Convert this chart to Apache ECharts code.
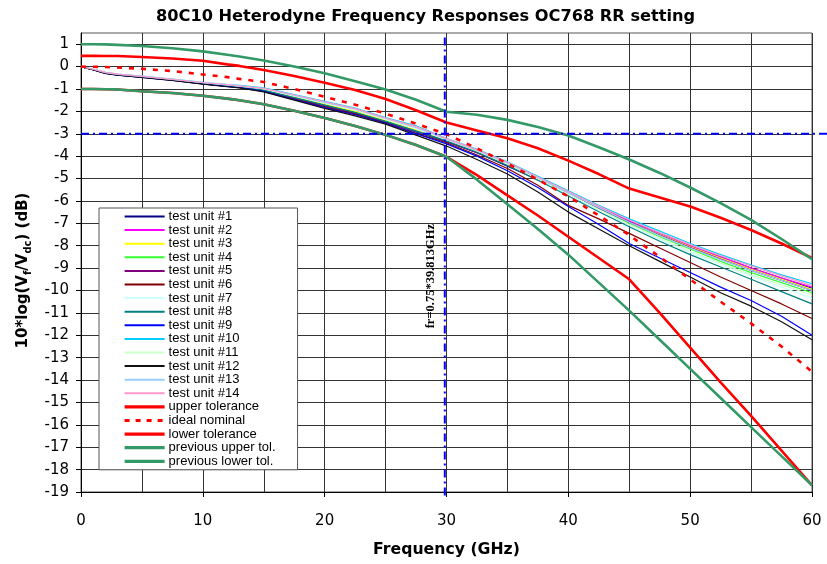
<!DOCTYPE html>
<html>
<head>
<meta charset="utf-8">
<script src="https://cdn.jsdelivr.net/npm/echarts@6/dist/echarts.min.js"></script>
<style>html,body{margin:0;padding:0;background:#fff;}#c{width:827px;height:564px;}</style>
</head>
<body>
<div id="c"></div>
<script>
var freq = [0, 1, 2, 3, 5, 7.5, 10, 12, 13, 15, 17.5, 20, 22.5, 25, 27.5, 30, 32.5, 35, 37.5, 40, 42.5, 45, 47.5, 50, 52.5, 55, 57.5, 60];

var unit1  = [0,-0.14,-0.29,-0.37,-0.47,-0.6,-0.76,-0.87,-0.92,-1.08,-1.42,-1.75,-2.08,-2.48,-2.92,-3.35,-3.85,-4.45,-5.05,-5.65,-6.3,-6.9,-7.45,-8.0,-8.5,-9.0,-9.45,-9.9];
var unit2  = [0,-0.13,-0.28,-0.36,-0.45,-0.59,-0.74,-0.85,-0.9,-1.05,-1.38,-1.7,-2.02,-2.42,-2.85,-3.3,-3.8,-4.38,-4.98,-5.62,-6.27,-6.88,-7.45,-8.0,-8.5,-9.0,-9.45,-9.85];
var unit3  = [0,-0.13,-0.27,-0.35,-0.45,-0.58,-0.73,-0.84,-0.89,-1.03,-1.36,-1.68,-2.0,-2.4,-2.82,-3.28,-3.8,-4.38,-5.0,-5.65,-6.3,-6.95,-7.5,-8.05,-8.55,-9.05,-9.5,-9.95];
var unit4  = [0,-0.13,-0.28,-0.36,-0.46,-0.6,-0.75,-0.86,-0.91,-1.06,-1.4,-1.72,-2.04,-2.45,-2.88,-3.32,-3.82,-4.4,-5.02,-5.68,-6.35,-7.0,-7.6,-8.15,-8.7,-9.2,-9.65,-10.1];
var unit5  = [0,-0.14,-0.29,-0.37,-0.46,-0.6,-0.76,-0.87,-0.92,-1.07,-1.41,-1.74,-2.06,-2.47,-2.9,-3.33,-3.84,-4.42,-5.03,-5.67,-6.32,-6.95,-7.52,-8.08,-8.6,-9.1,-9.55,-10.0];
var unit6  = [0,-0.14,-0.29,-0.37,-0.47,-0.61,-0.77,-0.88,-0.93,-1.1,-1.45,-1.8,-2.12,-2.52,-2.98,-3.4,-3.95,-4.55,-5.3,-6.2,-6.8,-7.45,-8.1,-8.75,-9.4,-10.0,-10.6,-11.25];
var unit7  = [0,-0.12,-0.27,-0.35,-0.44,-0.58,-0.72,-0.83,-0.88,-1.0,-1.32,-1.63,-1.95,-2.36,-2.78,-3.28,-3.78,-4.36,-5.02,-5.72,-6.42,-7.1,-7.72,-8.3,-8.85,-9.35,-9.85,-10.35];
var unit8  = [0,-0.13,-0.28,-0.36,-0.46,-0.59,-0.75,-0.86,-0.91,-1.06,-1.39,-1.72,-2.05,-2.45,-2.88,-3.32,-3.82,-4.42,-5.08,-5.78,-6.48,-7.15,-7.8,-8.4,-8.95,-9.5,-10.05,-10.6];
var unit9  = [0,-0.14,-0.3,-0.38,-0.48,-0.62,-0.77,-0.89,-0.94,-1.11,-1.47,-1.83,-2.15,-2.53,-3.0,-3.45,-4.0,-4.65,-5.4,-6.25,-7.05,-7.9,-8.55,-9.2,-9.85,-10.45,-11.15,-12.0];
var unit10 = [0,-0.12,-0.26,-0.34,-0.43,-0.56,-0.7,-0.8,-0.84,-0.95,-1.25,-1.55,-1.85,-2.28,-2.65,-3.2,-3.7,-4.25,-4.9,-5.55,-6.2,-6.8,-7.35,-7.9,-8.4,-8.87,-9.3,-9.7];
var unit11 = [0,-0.12,-0.27,-0.35,-0.44,-0.57,-0.72,-0.82,-0.87,-0.99,-1.3,-1.6,-1.92,-2.34,-2.75,-3.27,-3.77,-4.35,-5.0,-5.68,-6.38,-7.05,-7.67,-8.25,-8.78,-9.3,-9.75,-10.2];
var unit12 = [0,-0.15,-0.3,-0.38,-0.48,-0.62,-0.78,-0.9,-0.95,-1.13,-1.5,-1.87,-2.2,-2.57,-3.06,-3.55,-4.15,-4.8,-5.6,-6.5,-7.25,-8.0,-8.7,-9.4,-10.1,-10.7,-11.4,-12.2];
var unit13 = [0,-0.12,-0.27,-0.35,-0.44,-0.57,-0.72,-0.82,-0.87,-0.98,-1.29,-1.6,-1.9,-2.32,-2.72,-3.24,-3.74,-4.3,-4.96,-5.63,-6.3,-6.95,-7.55,-8.1,-8.62,-9.1,-9.55,-10.0];
var unit14 = [0,-0.12,-0.26,-0.34,-0.44,-0.57,-0.71,-0.81,-0.86,-0.97,-1.27,-1.57,-1.88,-2.3,-2.68,-3.22,-3.72,-4.27,-4.93,-5.58,-6.23,-6.85,-7.42,-7.95,-8.45,-8.9,-9.35,-9.78];

var upperTol   = [0.48,0.48,0.47,0.47,0.43,0.36,0.26,0.1,0.03,-0.15,-0.42,-0.72,-1.05,-1.45,-1.95,-2.5,-2.85,-3.2,-3.65,-4.2,-4.8,-5.45,-5.85,-6.25,-6.75,-7.3,-7.9,-8.55];
var nominal    = [0,-0.01,-0.02,-0.04,-0.1,-0.2,-0.35,-0.47,-0.55,-0.69,-1.0,-1.35,-1.7,-2.1,-2.55,-3.02,-3.65,-4.33,-5.05,-5.8,-6.65,-7.53,-8.5,-9.5,-10.5,-11.47,-12.5,-13.63];
var lowerTol   = [-1.0,-1.0,-1.01,-1.02,-1.1,-1.18,-1.3,-1.43,-1.5,-1.68,-1.97,-2.3,-2.65,-3.05,-3.5,-4.03,-4.85,-5.75,-6.65,-7.6,-8.55,-9.5,-11.0,-12.55,-14.1,-15.6,-17.15,-18.7];
var prevUpper  = [1.0,1.0,0.99,0.97,0.92,0.82,0.68,0.53,0.45,0.27,0.0,-0.3,-0.65,-1.02,-1.48,-2.02,-2.15,-2.38,-2.7,-3.08,-3.6,-4.15,-4.75,-5.4,-6.1,-6.85,-7.7,-8.6];
var prevLower  = [-1.0,-1.0,-1.01,-1.02,-1.1,-1.18,-1.3,-1.43,-1.5,-1.68,-1.97,-2.3,-2.65,-3.05,-3.5,-4.03,-5.05,-6.15,-7.25,-8.4,-9.65,-10.9,-12.2,-13.5,-14.8,-16.1,-17.4,-18.7];

var unitNames = ['test unit #1','test unit #2','test unit #3','test unit #4','test unit #5','test unit #6','test unit #7','test unit #8','test unit #9','test unit #10','test unit #11','test unit #12','test unit #13','test unit #14'];
var unitColors = ['#000080','#FF00FF','#FFFF00','#33FF33','#800080','#800000','#CCFFFF','#008080','#0000FF','#00CCFF','#CCFFCC','#111111','#99CCFF','#FF99CC'];
var unitData = [unit1,unit2,unit3,unit4,unit5,unit6,unit7,unit8,unit9,unit10,unit11,unit12,unit13,unit14];
var tolNames = ['upper tolerance','ideal nominal','lower tolerance','previous upper tol.','previous lower tol.'];
var tolData = [upperTol, nominal, lowerTol, prevUpper, prevLower];
var tolColors = ['#FF0000','#FF0000','#FF0000','#339966','#339966'];

var yTicks = [1,0,-1,-2,-3,-4,-5,-6,-7,-8,-9,-10,-11,-12,-13,-14,-15,-16,-17,-18,-19];
var xTicks = [0,10,20,30,40,50,60];
var cutoffFreq = 0.75 * 39.813;
var halfPowerLevel = -3;

function pairs(vals) { return freq.map(function (f, i) { return [f, vals[i]]; }); }

var FONT = 'Liberation Sans, Arial, sans-serif';
var AXFONT = 'DejaVu Sans, sans-serif';
var series = [];
var legendData = [];
unitData.forEach(function (d, i) {
  series.push({ name: unitNames[i], type: 'line', data: pairs(d), symbol: 'none',
    lineStyle: { color: unitColors[i], width: 1.2 }, itemStyle: { color: unitColors[i] }, z: 2 });
  legendData.push({ name: unitNames[i], lineStyle: { width: 2 } });
});
tolData.forEach(function (d, i) {
  var dashed = tolNames[i] === 'ideal nominal';
  series.push({ name: tolNames[i], type: 'line', data: pairs(d), symbol: 'none',
    lineStyle: { color: tolColors[i], width: 2.6, type: dashed ? [5, 7] : 'solid' }, itemStyle: { color: tolColors[i] }, z: 3 });
  legendData.push({ name: tolNames[i], lineStyle: { width: 3.2, type: dashed ? [5, 6] : 'solid' } });
});
series.push({ name: 'vline', type: 'line', data: [[cutoffFreq, 1.3], [cutoffFreq, -19.3]], symbol: 'none', clip: false,
  lineStyle: { color: '#0000FF', width: 2, type: [8, 4, 2, 4] }, z: 4, silent: true });

var chart = echarts.init(document.getElementById('c'), null, { renderer: 'canvas' });
chart.setOption({
  animation: false,
  backgroundColor: '#fff',
  title: { text: '80C10 Heterodyne Frequency Responses OC768 RR setting', left: 151, top: 4,
    textStyle: { fontFamily: AXFONT, fontSize: 16.2, fontWeight: 'bold', color: '#000' } },
  grid: { left: 81, right: 15, top: 33, bottom: 72, show: true, borderColor: '#555', borderWidth: 1, backgroundColor: 'transparent' },
  legend: {
    data: legendData, orient: 'vertical', left: 99, top: 208, itemGap: 0.6, itemWidth: 40, itemHeight: 1,
    padding: [2, 22, 2, 24], backgroundColor: '#fff', borderColor: '#555', borderWidth: 1, borderRadius: 0,
    itemStyle: { opacity: 0 },
    textStyle: { fontFamily: FONT, fontSize: 13, color: '#000', lineHeight: 13, padding: [0, 0, 0, -1] },
    selectedMode: false
  },
  xAxis: {
    type: 'value', min: 0, max: 60, interval: 10,
    name: 'Frequency (GHz)', nameLocation: 'middle', nameGap: 50,
    nameTextStyle: { fontFamily: AXFONT, fontSize: 15.7, fontWeight: 'bold', color: '#000' },
    axisLine: { show: true, onZero: false, lineStyle: { color: '#000', width: 1 } },
    axisTick: { show: true, inside: false, length: 5, lineStyle: { color: '#000' } },
    axisLabel: { margin: 22, fontFamily: AXFONT, fontSize: 15, color: '#000',
      formatter: function (v) { return xTicks.indexOf(v) >= 0 ? String(v) : ''; } },
    splitLine: { show: true, lineStyle: { color: '#333', width: 1 } },
    minorTick: { show: false, splitNumber: 2 },
    minorSplitLine: { show: true, lineStyle: { color: '#333', width: 1 } }
  },
  yAxis: {
    type: 'value', min: -19, max: 1.5, interval: 1,
    name: '{b|10*log(V}{s|f}{b|/V}{s|dc}{b|) (dB)}', nameLocation: 'middle', nameGap: 48, nameRotate: 90,
    nameTextStyle: { fontFamily: AXFONT, fontWeight: 'bold', color: '#000', padding: [0, 16, 0, 0],
      rich: { b: { fontFamily: AXFONT, fontSize: 15, fontWeight: 'bold', color: '#000', lineHeight: 20, verticalAlign: 'middle' },
              s: { fontFamily: AXFONT, fontSize: 10, fontWeight: 'bold', color: '#000', lineHeight: 11, verticalAlign: 'bottom' } } },
    axisLine: { show: true, onZero: false, lineStyle: { color: '#000', width: 1 } },
    axisTick: { show: true, inside: false, length: 5, lineStyle: { color: '#000' }, customValues: yTicks },
    axisLabel: { margin: 12, fontFamily: AXFONT, fontSize: 15, color: '#000', customValues: yTicks,
      formatter: function (v) { return yTicks.indexOf(v) >= 0 ? String(v) : ''; } },
    splitLine: { show: true, lineStyle: { color: '#333', width: 1 } }
  },
  series: series
});

var p = chart.convertToPixel({ gridIndex: 0 }, [cutoffFreq, -9.36]);
var h0 = chart.convertToPixel({ gridIndex: 0 }, [0, halfPowerLevel]);
chart.setOption({
  graphic: [
    { type: 'line', silent: true, z: 10,
      shape: { x1: h0[0], y1: h0[1], x2: chart.getWidth(), y2: h0[1] },
      style: { stroke: '#0000FF', lineWidth: 2, lineDash: [8, 4, 2, 4] } },
    { type: 'text', x: p[0] - 14, y: p[1], rotation: Math.PI / 2, z: 10,
      style: { text: 'fr=0.75*39.813GHz', fontFamily: 'Liberation Serif, Times New Roman, serif', fontSize: 12.5, fontWeight: 'bold',
        fill: '#000', align: 'center', verticalAlign: 'middle' } }]
});
</script>
</body>
</html>
